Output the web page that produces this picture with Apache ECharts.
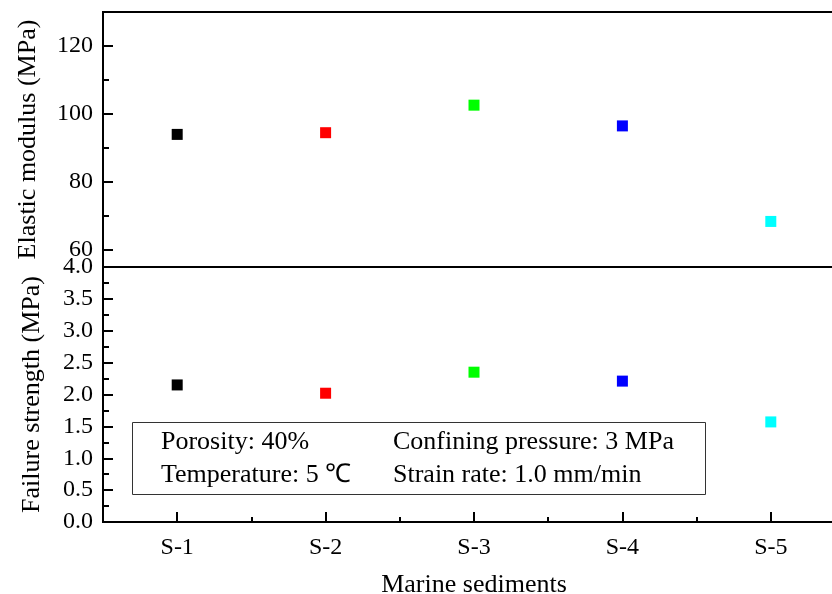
<!DOCTYPE html>
<html>
<head>
<meta charset="utf-8">
<script src="https://cdn.jsdelivr.net/npm/echarts@6/dist/echarts.min.js"></script>
<style>
  html, body { margin: 0; padding: 0; background: #fff; }
  #chart { width: 832px; height: 594px; }
</style>
</head>
<body>
<div id="chart"></div>
<script>
// Samples along the shared x-axis
const samples = ['S-1', 'S-2', 'S-3', 'S-4', 'S-5'];
// Elastic modulus (MPa) for each sample
const elasticModulus = [94.0, 94.5, 102.6, 96.5, 68.4];
// Failure strength (MPa) for each sample
const failureStrength = [2.15, 2.02, 2.35, 2.21, 1.57];
// Tick labels
const modulusTicks = [60, 80, 100, 120];
const modulusMinorTicks = [70, 90, 110];
// Marker colour per sample
const sampleColors = ['#000000', '#ff0000', '#00ff00', '#0000ff', '#00ffff'];
// Test conditions shown in the box
const conditions = [
  ['Porosity: 40%', 'Confining pressure: 3 MPa'],
  ['Temperature: 5 \u2103', 'Strain rate: 1.0 mm/min']
];

const FONT = '"Liberation Serif", "Times New Roman", serif';
const chart = echarts.init(document.getElementById('chart'), null, { renderer: 'canvas' });

// The frame runs past the right edge of the canvas, so its right side is cut off.
const gridLeft = 103, gridWidth = 742;
const panelH = 255, topY = 12;

function frameGrid(top) {
  return {
    left: gridLeft, width: gridWidth, top: top, height: panelH,
    show: true, borderColor: '#000', borderWidth: 2, backgroundColor: 'transparent',
    containLabel: false, outerBoundsMode: 'none'
  };
}

function catAxis(gridIndex, opts) {
  return Object.assign({
    type: 'category', gridIndex: gridIndex, data: samples, boundaryGap: true,
    position: 'bottom',
    axisLine: { show: false },
    axisTick: { show: false },
    axisLabel: { show: false },
    splitLine: { show: false }
  }, opts || {});
}

const colorOf = p => sampleColors[p.dataIndex];

const option = {
  backgroundColor: '#fff',
  animation: false,
  grid: [frameGrid(topY), frameGrid(topY + panelH)],
  xAxis: [
    catAxis(0),
    // labelled ticks at each sample
    catAxis(1, {
      axisTick: { show: true, inside: true, alignWithLabel: true, length: 10, interval: 0,
        lineStyle: { color: '#000', width: 2 } },
      axisLabel: { show: true, interval: 0, margin: 14, color: '#000', fontFamily: FONT, fontSize: 24 },
      name: 'Marine sediments', nameLocation: 'middle', nameGap: 50,
      nameTextStyle: { color: '#000', fontFamily: FONT, fontSize: 26 }
    }),
    // short ticks between samples
    catAxis(1, {
      axisTick: { show: true, inside: true, alignWithLabel: false, length: 5, interval: 0,
        lineStyle: { color: '#000', width: 2 } }
    })
  ],
  yAxis: [
    {
      type: 'value', gridIndex: 0, min: 55, max: 130, position: 'left',
      axisLine: { show: false },
      splitLine: { show: false },
      axisTick: { show: true, inside: true, length: 10, customValues: modulusTicks,
        lineStyle: { color: '#000', width: 2 } },
      axisLabel: { show: true, customValues: modulusTicks, margin: 10, color: '#000',
        fontFamily: FONT, fontSize: 24 },
      name: 'Elastic modulus (MPa)', nameLocation: 'middle', nameGap: 62, nameRotate: 90,
      nameTextStyle: { color: '#000', fontFamily: FONT, fontSize: 26 }
    },
    {
      type: 'value', gridIndex: 0, min: 55, max: 130, position: 'left',
      axisLine: { show: false },
      splitLine: { show: false },
      axisTick: { show: true, inside: true, length: 6, customValues: modulusMinorTicks,
        lineStyle: { color: '#000', width: 2 } },
      axisLabel: { show: false }
    },
    {
      type: 'value', gridIndex: 1, min: 0, max: 4, interval: 0.5, position: 'left',
      axisLine: { show: false },
      splitLine: { show: false },
      axisTick: { show: true, inside: true, length: 10, lineStyle: { color: '#000', width: 2 } },
      minorTick: { show: true, splitNumber: 2, length: 6, lineStyle: { color: '#000', width: 2 } },
      axisLabel: { show: true, margin: 10, color: '#000', fontFamily: FONT, fontSize: 24,
        formatter: v => v.toFixed(1) },
      name: 'Failure strength (MPa)', nameLocation: 'middle', nameGap: 58, nameRotate: 90,
      nameTextStyle: { color: '#000', fontFamily: FONT, fontSize: 26 }
    }
  ],
  series: [
    {
      type: 'scatter', xAxisIndex: 0, yAxisIndex: 0,
      symbol: 'rect', symbolSize: 11,
      itemStyle: { color: colorOf, opacity: 1 },
      data: elasticModulus
    },
    {
      type: 'scatter', xAxisIndex: 1, yAxisIndex: 2,
      symbol: 'rect', symbolSize: 11,
      itemStyle: { color: colorOf, opacity: 1 },
      data: failureStrength
    }
  ],
  graphic: [
    {
      type: 'rect', left: 132, top: 422, z: 10,
      shape: { width: 573, height: 72 },
      style: { fill: 'transparent', stroke: '#333', lineWidth: 1 }
    }
  ].concat(conditions.flatMap((row, r) => row.map((txt, c) => ({
    type: 'text', z: 11,
    x: c === 0 ? 161 : 393, y: 442 + r * 33,
    style: { text: txt, fill: '#000', font: '26px ' + FONT, textVerticalAlign: 'middle' }
  }))))
};

chart.setOption(option);
</script>
</body>
</html>
